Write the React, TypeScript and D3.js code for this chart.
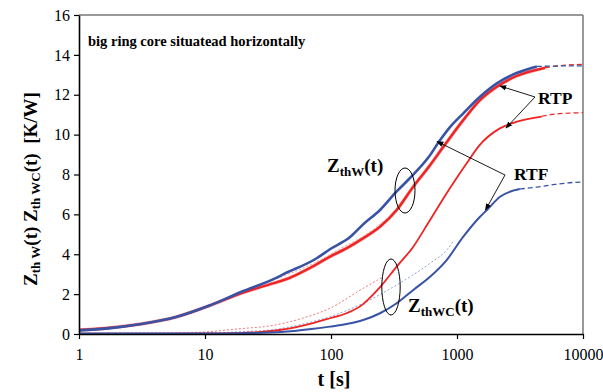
import * as d3 from 'd3';
import React, { useRef, useEffect } from 'react';

const W = 603;
const H = 392;

const xTicks = [1, 10, 100, 1000, 10000];
const yTicks = [0, 2, 4, 6, 8, 10, 12, 14, 16];

// Zth W(t), RTF (blue) and RTP (red)
const tBlueW = [1, 1.7, 3.1, 5.8, 10.6, 19.5, 36, 42, 77, 98, 141, 180, 245, 332, 420, 600, 730, 900, 1122, 1523, 2070, 3000, 4300];
const vBlueW = [0.18, 0.28, 0.5, 0.84, 1.4, 2.12, 2.79, 3.0, 3.8, 4.25, 4.85, 5.5, 6.22, 7.15, 7.8, 8.9, 9.7, 10.45, 11.07, 11.9, 12.57, 13.1, 13.42];
const tBlueWext = [4300, 6000, 10000];
const vBlueWext = [13.42, 13.44, 13.45];

const tRedW = [1, 1.7, 3.1, 5.8, 10.6, 19.5, 36, 42, 77, 98, 133, 180, 245, 332, 450, 600, 780, 1122, 1523, 2070, 3000, 5000];
const vRedW = [0.2, 0.3, 0.5, 0.84, 1.4, 2.05, 2.57, 2.7, 3.5, 3.88, 4.3, 4.8, 5.38, 6.22, 7.39, 8.4, 9.39, 10.73, 11.73, 12.4, 12.95, 13.35];
const tRedWext = [5000, 7000, 10000];
const vRedWext = [13.35, 13.48, 13.52];

// Zth WC(t)
const tRedWC = [1, 5, 10, 20, 39, 72, 98, 133, 180, 210, 245, 332, 450, 611, 828, 1000, 1190, 1500, 2170, 3000, 4700];
const vRedWC = [0.02, 0.02, 0.03, 0.06, 0.2, 0.55, 0.79, 1.04, 1.5, 1.9, 2.35, 3.38, 4.38, 5.72, 7.06, 7.85, 8.55, 9.45, 10.3, 10.65, 10.9];
const tRedWCext = [4700, 6500, 10000];
const vRedWCext = [10.92, 11.05, 11.1];

const tBlueWC = [1, 10, 20, 40, 70, 98, 133, 180, 245, 332, 450, 611, 828, 1122, 1523, 1730, 2193, 3150];
const vBlueWC = [0.02, 0.02, 0.04, 0.1, 0.25, 0.37, 0.5, 0.7, 1.04, 1.54, 2.21, 2.87, 3.71, 4.88, 5.88, 6.22, 6.88, 7.27];
const tBlueWCext = [3150, 4300, 6000, 8300, 10000];
const vBlueWCext = [7.27, 7.37, 7.5, 7.6, 7.62];

// fitted curves (dotted)
const tRedWCfit = [1, 5, 10, 17, 36, 60, 98, 180, 260];
const vRedWCfit = [0.03, 0.05, 0.1, 0.24, 0.45, 0.8, 1.29, 2.29, 2.87];
const tBlueWCfit = [1, 10, 20, 36, 60, 98, 180, 332, 611, 828, 930];
const vBlueWCfit = [0.03, 0.05, 0.12, 0.23, 0.5, 0.87, 1.54, 2.46, 3.55, 4.21, 4.63];
const tRedWfit = [20, 40, 77, 120, 180, 300];
const vRedWfit = [2.15, 2.85, 3.62, 4.3, 4.9, 5.95];

const blue = "#3853a6";
const red = "#ee2424";
const serif = "Liberation Serif, DejaVu Serif, serif";

function App() {
    const ref = useRef<SVGSVGElement>(null);

    useEffect(() => {
        draw();
    }, []);

    const draw = () => {
        const svg = d3.select(ref.current);
        svg.selectAll("*").remove();

        const x = d3.scaleLog().domain([1, 10000]).range([79, 583]);
        const y = d3.scaleLinear().domain([0, 16]).range([334, 15]);

        const defs = svg.append("defs");
        defs.append("marker")
            .attr("id", "arr")
            .attr("viewBox", "0 0 10 10")
            .attr("refX", 9).attr("refY", 5)
            .attr("markerWidth", 7).attr("markerHeight", 7)
            .attr("markerUnits", "userSpaceOnUse")
            .attr("orient", "auto")
            .append("path").attr("d", "M0,1 L10,5 L0,9 z").attr("fill", "#000");

        // frame top / right
        svg.append("line").attr("x1", x(1)).attr("x2", x(10000)).attr("y1", y(16)).attr("y2", y(16))
            .attr("stroke", "#777").attr("stroke-width", 1.5);
        svg.append("line").attr("x1", x(10000)).attr("x2", x(10000)).attr("y1", y(16)).attr("y2", y(0))
            .attr("stroke", "#777").attr("stroke-width", 1.5);

        const line = d3.line<[number, number]>()
            .x(d => x(d[0]))
            .y(d => y(d[1]))
            .curve(d3.curveMonotoneX);

        const series = (t: number[], v: number[], color: string, w: number, dash?: string) => {
            svg.append("path")
                .datum(d3.zip(t, v) as [number, number][])
                .attr("d", line)
                .attr("fill", "none")
                .attr("stroke", color)
                .attr("stroke-width", w)
                .attr("stroke-dasharray", dash || null);
        };

        // fits
        series(tRedWCfit, vRedWCfit, "#f07878", 1, "2,2");
        series(tBlueWCfit, vBlueWCfit, "#8fa2d8", 1, "2,2");
        series(tRedWfit, vRedWfit, "#f29a9a", 1, "2,2");

        // ZthWC
        series(tRedWC, vRedWC, red, 1.8);
        series(tRedWCext, vRedWCext, red, 1.2, "5,3");
        series(tBlueWC, vBlueWC, blue, 2);
        series(tBlueWCext, vBlueWCext, blue, 1.3, "5,3");

        // ZthW
        series(tRedW, vRedW, "#f7a0a0", 3.4);
        series(tRedW, vRedW, red, 2.3);
        series(tRedWext, vRedWext, red, 1.2, "5,3");
        series(tBlueW, vBlueW, blue, 2.6);
        series(tBlueWext, vBlueWext, blue, 1.3, "5,3");

        // axes
        const gy = svg.append("g").attr("transform", `translate(${x(1)},0)`)
            .call(d3.axisLeft(y).tickValues(yTicks).tickSize(5).tickSizeOuter(0).tickPadding(4));
        const gx = svg.append("g").attr("transform", `translate(0,${y(0)})`)
            .call(d3.axisBottom(x).tickValues(xTicks).tickFormat(d3.format("d")).tickSize(5).tickSizeOuter(0).tickPadding(10));
        [gx, gy].forEach(g => {
            g.attr("font-family", null).attr("font-size", null);
            g.style("font-family", serif).style("font-size", "16px");
            g.select(".domain").attr("stroke", "#000").attr("stroke-width", 1.6);
            g.selectAll(".tick line").attr("stroke", "#000").attr("stroke-width", 1.2);
            g.selectAll(".tick text").attr("fill", "#000");
        });

        // ellipses
        svg.append("ellipse").attr("cx", 405).attr("cy", 190.5).attr("rx", 10).attr("ry", 22.5)
            .attr("fill", "none").attr("stroke", "#000").attr("stroke-width", 1);
        svg.append("ellipse").attr("cx", 391).attr("cy", 287).attr("rx", 9.2).attr("ry", 28)
            .attr("fill", "none").attr("stroke", "#000").attr("stroke-width", 1);

        // arrows
        const arrow = (x1: number, y1: number, x2: number, y2: number) => {
            svg.append("line").attr("x1", x1).attr("y1", y1).attr("x2", x2).attr("y2", y2)
                .attr("stroke", "#000").attr("stroke-width", 0.9).attr("marker-end", "url(#arr)");
        };
        arrow(535, 97, 500, 86);
        arrow(535, 97, 506, 128);
        arrow(505, 175, 437, 141.5);
        arrow(505, 175, 485.5, 210);

        const txt = (sel: any, size: number) =>
            sel.style("font-family", serif).style("font-weight", "bold").style("font-size", size + "px");

        // texts
        txt(svg.append("text").attr("x", 88).attr("y", 46), 14.5)
            .text("big ring core situatead horizontally");

        txt(svg.append("text").attr("x", 538).attr("y", 104), 17.5).text("RTP");
        txt(svg.append("text").attr("x", 514).attr("y", 180), 17.5).text("RTF");

        const zLabel = (lx: number, ly: number, sub: string) => {
            const t = txt(svg.append("text").attr("x", lx).attr("y", ly), 19);
            t.append("tspan").text("Z");
            t.append("tspan").style("font-size", "13px").attr("dy", 4).text(sub);
            t.append("tspan").attr("dy", -4).text("(t)");
        };
        zLabel(327, 172, "thW");
        zLabel(408, 312, "thWC");

        txt(svg.append("text").attr("x", 334).attr("y", 386).attr("text-anchor", "middle"), 20).text("t [s]");

        const yt = txt(svg.append("text").attr("transform", "translate(37,189) rotate(-90)")
            .attr("text-anchor", "middle"), 19);
        yt.append("tspan").text("Z");
        yt.append("tspan").style("font-size", "13px").attr("dy", 3).text("th W");
        yt.append("tspan").attr("dy", -3).text("(t) Z");
        yt.append("tspan").style("font-size", "13px").attr("dy", 3).text("th WC");
        yt.append("tspan").attr("dy", -3).text("(t)\u00a0\u00a0[K/W]");
    };

    return (
        <svg ref={ref} width={W} height={H}
            style={{ position: "absolute", left: 0, top: 0, background: "#fff" }}>
        </svg>
    );
}

export default App;
